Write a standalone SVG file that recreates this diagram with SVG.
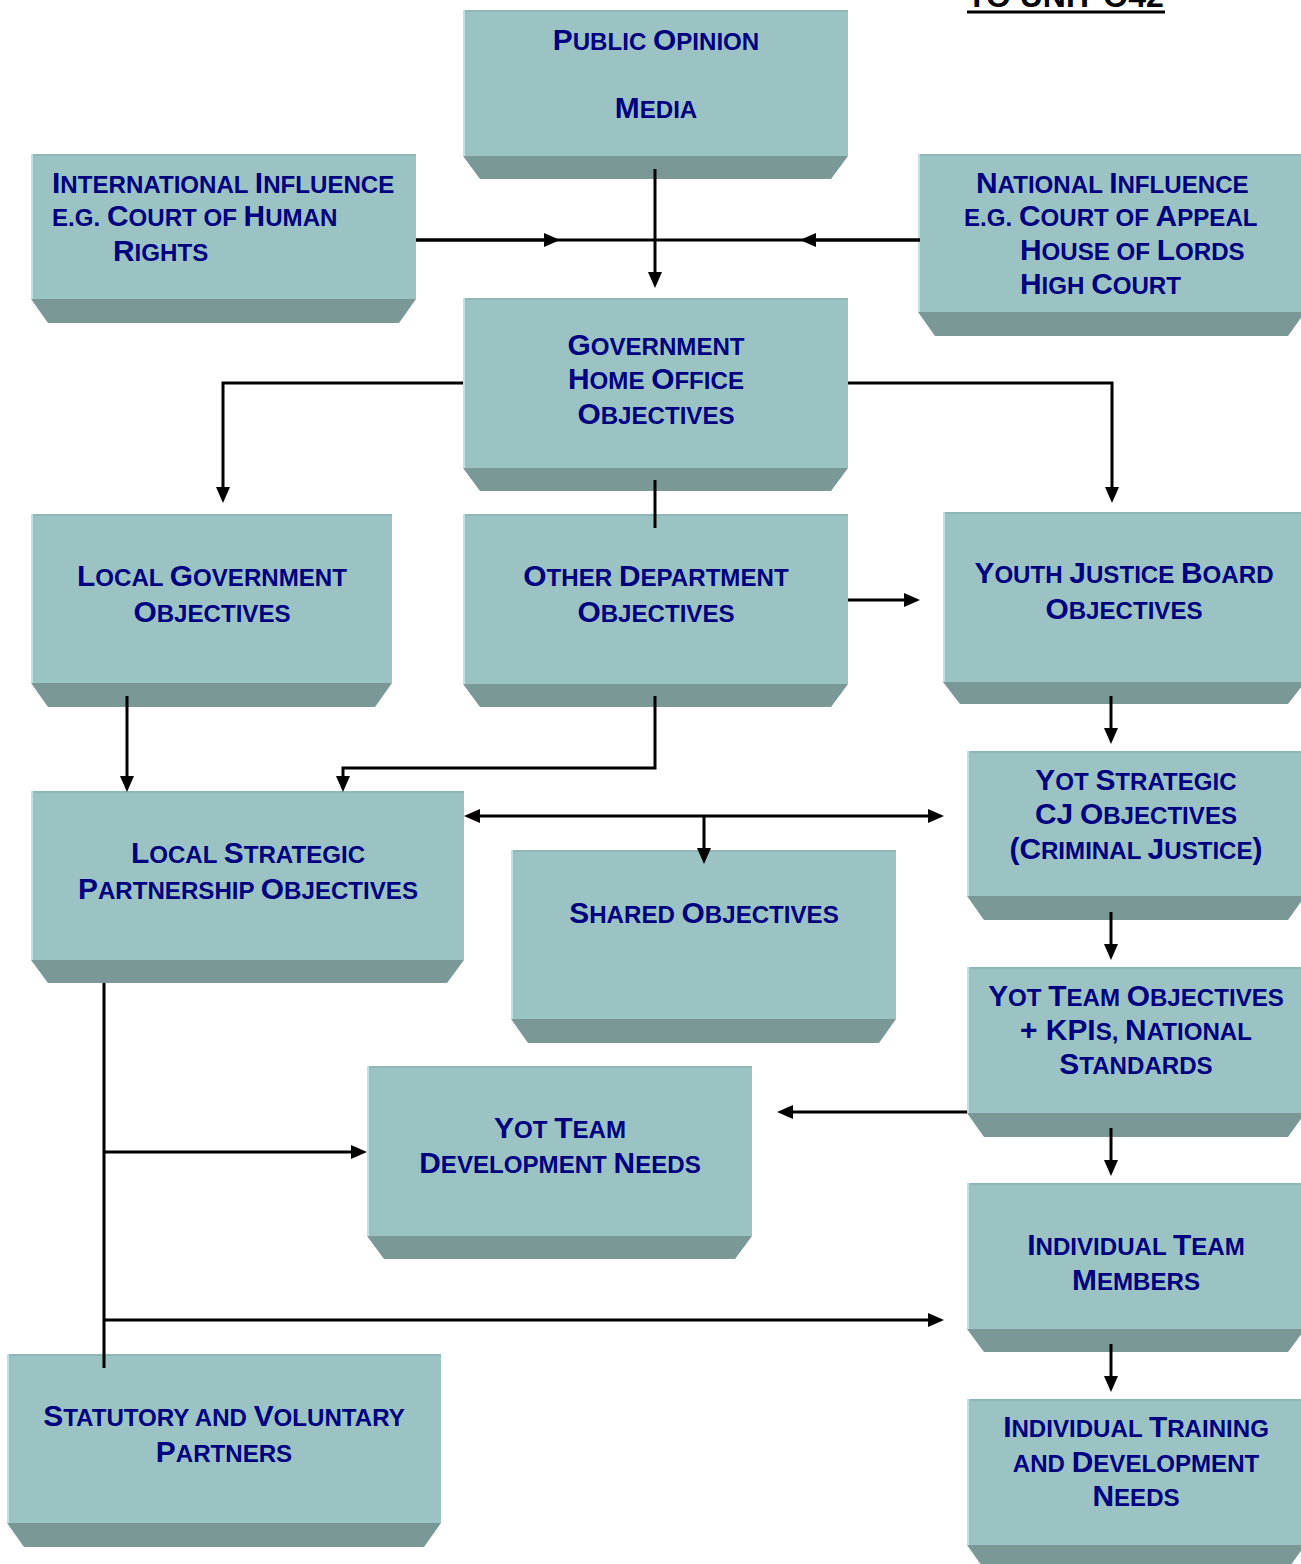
<svg xmlns="http://www.w3.org/2000/svg" width="1301" height="1564" viewBox="0 0 1301 1564">
<style>
.face{fill:#9CC3C3}
.hl{fill:#BDE2E2}
.tp{fill:#8FB7B7}
.bev{fill:#799896}
.t{font-family:"Liberation Sans",Arial,sans-serif;font-weight:bold;font-size:24.1px;fill:#000080}
.m{text-anchor:middle}
.b{font-size:29.9px}
.ln{fill:none;stroke:#000;stroke-width:3}
</style>
<defs>
<marker id="ah" markerUnits="userSpaceOnUse" markerWidth="16" markerHeight="14" viewBox="0 0 16 14" refX="12" refY="7" orient="auto">
<path d="M0,0 L16,7 L0,14 z" fill="#000"/>
</marker>
</defs>
<rect width="1301" height="1564" fill="#fff"/>

<g id="header">
<text x="967" y="7" font-family="Liberation Sans,Arial,sans-serif" font-weight="bold" font-size="32" fill="#000">TO UNIT O42</text>
<rect x="967" y="10.5" width="198" height="3" fill="#000"/>
</g>

<g id="n-public">
<rect class="face" x="463" y="10" width="385" height="146"/><rect class="tp" x="463" y="10" width="385" height="2"/><rect class="hl" x="463" y="10" width="2" height="146"/>
<polygon class="bev" points="463,156 848,156 831,179 480,179"/>
<text class="t m" x="656" y="50"><tspan class="b">P</tspan>UBLIC <tspan class="b">O</tspan>PINION</text>
<text class="t m" x="656" y="118"><tspan class="b">M</tspan>EDIA</text>
</g>

<g id="n-international">
<rect class="face" x="31" y="154" width="385" height="145"/><rect class="tp" x="31" y="154" width="385" height="2"/><rect class="hl" x="31" y="154" width="2" height="145"/>
<polygon class="bev" points="31,299 416,299 399,323 48,323"/>
<text class="t" x="52" y="193"><tspan class="b">I</tspan>NTERNATIONAL <tspan class="b">I</tspan>NFLUENCE</text>
<text class="t" x="52" y="226">E.G. <tspan class="b">C</tspan>OURT OF <tspan class="b">H</tspan>UMAN</text>
<text class="t" x="113" y="261"><tspan class="b">R</tspan>IGHTS</text>
</g>

<g id="n-national">
<rect class="face" x="918" y="154" width="387" height="158"/><rect class="tp" x="918" y="154" width="387" height="2"/><rect class="hl" x="918" y="154" width="2" height="158"/>
<polygon class="bev" points="918,312 1305,312 1288,336 935,336"/>
<text class="t" x="976" y="193"><tspan class="b">N</tspan>ATIONAL <tspan class="b">I</tspan>NFLUENCE</text>
<text class="t" x="964" y="226">E.G. <tspan class="b">C</tspan>OURT OF <tspan class="b">A</tspan>PPEAL</text>
<text class="t" x="1020" y="260"><tspan class="b">H</tspan>OUSE OF <tspan class="b">L</tspan>ORDS</text>
<text class="t" x="1020" y="294"><tspan class="b">H</tspan>IGH <tspan class="b">C</tspan>OURT</text>
</g>

<g id="n-government">
<rect class="face" x="463" y="298" width="385" height="170"/><rect class="tp" x="463" y="298" width="385" height="2"/><rect class="hl" x="463" y="298" width="2" height="170"/>
<polygon class="bev" points="463,468 848,468 831,491 480,491"/>
<text class="t m" x="656" y="355"><tspan class="b">G</tspan>OVERNMENT</text>
<text class="t m" x="656" y="389"><tspan class="b">H</tspan>OME <tspan class="b">O</tspan>FFICE</text>
<text class="t m" x="656" y="424"><tspan class="b">O</tspan>BJECTIVES</text>
</g>

<g id="n-localgov">
<rect class="face" x="31" y="514" width="361" height="169"/><rect class="tp" x="31" y="514" width="361" height="2"/><rect class="hl" x="31" y="514" width="2" height="169"/>
<polygon class="bev" points="31,683 392,683 375,707 48,707"/>
<text class="t m" x="212" y="586"><tspan class="b">L</tspan>OCAL <tspan class="b">G</tspan>OVERNMENT</text>
<text class="t m" x="212" y="622"><tspan class="b">O</tspan>BJECTIVES</text>
</g>

<g id="n-otherdept">
<rect class="face" x="463" y="514" width="385" height="170"/><rect class="tp" x="463" y="514" width="385" height="2"/><rect class="hl" x="463" y="514" width="2" height="170"/>
<polygon class="bev" points="463,684 848,684 831,707 480,707"/>
<text class="t m" x="656" y="586"><tspan class="b">O</tspan>THER <tspan class="b">D</tspan>EPARTMENT</text>
<text class="t m" x="656" y="622"><tspan class="b">O</tspan>BJECTIVES</text>
</g>

<g id="n-yjb">
<rect class="face" x="943" y="512" width="362" height="170"/><rect class="tp" x="943" y="512" width="362" height="2"/><rect class="hl" x="943" y="512" width="2" height="170"/>
<polygon class="bev" points="943,682 1305,682 1288,704 960,704"/>
<text class="t m" x="1124" y="583"><tspan class="b">Y</tspan>OUTH <tspan class="b">J</tspan>USTICE <tspan class="b">B</tspan>OARD</text>
<text class="t m" x="1124" y="619"><tspan class="b">O</tspan>BJECTIVES</text>
</g>

<g id="n-yotstrategic">
<rect class="face" x="967" y="751" width="338" height="145"/><rect class="tp" x="967" y="751" width="338" height="2"/><rect class="hl" x="967" y="751" width="2" height="145"/>
<polygon class="bev" points="967,896 1305,896 1288,920 984,920"/>
<text class="t m" x="1136" y="790"><tspan class="b">Y</tspan>OT <tspan class="b">S</tspan>TRATEGIC</text>
<text class="t m" x="1136" y="824"><tspan class="b">CJ</tspan> <tspan class="b">O</tspan>BJECTIVES</text>
<text class="t m" x="1136" y="859"><tspan class="b">(C</tspan>RIMINAL <tspan class="b">J</tspan>USTICE<tspan class="b">)</tspan></text>
</g>

<g id="n-lsp">
<rect class="face" x="31" y="791" width="433" height="169"/><rect class="tp" x="31" y="791" width="433" height="2"/><rect class="hl" x="31" y="791" width="2" height="169"/>
<polygon class="bev" points="31,960 464,960 447,983 48,983"/>
<text class="t m" x="248" y="863"><tspan class="b">L</tspan>OCAL <tspan class="b">S</tspan>TRATEGIC</text>
<text class="t m" x="248" y="899"><tspan class="b">P</tspan>ARTNERSHIP <tspan class="b">O</tspan>BJECTIVES</text>
</g>

<g id="n-shared">
<rect class="face" x="511" y="850" width="385" height="169"/><rect class="tp" x="511" y="850" width="385" height="2"/><rect class="hl" x="511" y="850" width="2" height="169"/>
<polygon class="bev" points="511,1019 896,1019 879,1043 528,1043"/>
<text class="t m" x="704" y="923"><tspan class="b">S</tspan>HARED <tspan class="b">O</tspan>BJECTIVES</text>
</g>

<g id="n-yotteam">
<rect class="face" x="967" y="967" width="338" height="146"/><rect class="tp" x="967" y="967" width="338" height="2"/><rect class="hl" x="967" y="967" width="2" height="146"/>
<polygon class="bev" points="967,1113 1305,1113 1288,1137 984,1137"/>
<text class="t m" x="1136" y="1006"><tspan class="b">Y</tspan>OT <tspan class="b">T</tspan>EAM <tspan class="b">O</tspan>BJECTIVES</text>
<text class="t m" x="1136" y="1040"><tspan class="b">+ KPI</tspan>S, <tspan class="b">N</tspan>ATIONAL</text>
<text class="t m" x="1136" y="1074"><tspan class="b">S</tspan>TANDARDS</text>
</g>

<g id="n-yotdev">
<rect class="face" x="367" y="1066" width="385" height="170"/><rect class="tp" x="367" y="1066" width="385" height="2"/><rect class="hl" x="367" y="1066" width="2" height="170"/>
<polygon class="bev" points="367,1236 752,1236 735,1259 384,1259"/>
<text class="t m" x="560" y="1138"><tspan class="b">Y</tspan>OT <tspan class="b">T</tspan>EAM</text>
<text class="t m" x="560" y="1173"><tspan class="b">D</tspan>EVELOPMENT <tspan class="b">N</tspan>EEDS</text>
</g>

<g id="n-individual">
<rect class="face" x="967" y="1183" width="338" height="146"/><rect class="tp" x="967" y="1183" width="338" height="2"/><rect class="hl" x="967" y="1183" width="2" height="146"/>
<polygon class="bev" points="967,1329 1305,1329 1288,1352 984,1352"/>
<text class="t m" x="1136" y="1255"><tspan class="b">I</tspan>NDIVIDUAL <tspan class="b">T</tspan>EAM</text>
<text class="t m" x="1136" y="1290"><tspan class="b">M</tspan>EMBERS</text>
</g>

<g id="n-training">
<rect class="face" x="967" y="1399" width="338" height="146"/><rect class="tp" x="967" y="1399" width="338" height="2"/><rect class="hl" x="967" y="1399" width="2" height="146"/>
<polygon class="bev" points="967,1545 1305,1545 1288,1569 984,1569"/>
<text class="t m" x="1136" y="1437"><tspan class="b">I</tspan>NDIVIDUAL <tspan class="b">T</tspan>RAINING</text>
<text class="t m" x="1136" y="1472">AND <tspan class="b">D</tspan>EVELOPMENT</text>
<text class="t m" x="1136" y="1506"><tspan class="b">N</tspan>EEDS</text>
</g>

<g id="n-statutory">
<rect class="face" x="7" y="1354" width="434" height="169"/><rect class="tp" x="7" y="1354" width="434" height="2"/><rect class="hl" x="7" y="1354" width="2" height="169"/>
<polygon class="bev" points="7,1523 441,1523 424,1547 24,1547"/>
<text class="t m" x="224" y="1426"><tspan class="b">S</tspan>TATUTORY AND <tspan class="b">V</tspan>OLUNTARY</text>
<text class="t m" x="224" y="1462"><tspan class="b">P</tspan>ARTNERS</text>
</g>

<g id="connectors">
<path class="ln" d="M655,169 L655,284" marker-end="url(#ah)"/>
<path class="ln" d="M416,240 L920,240"/>
<path class="ln" d="M416,240 L556,240" marker-end="url(#ah)"/>
<path class="ln" d="M920,240 L804,240" marker-end="url(#ah)"/>
<path class="ln" d="M463,383 L223,383 L223,499" marker-end="url(#ah)"/>
<path class="ln" d="M848,383 L1112,383 L1112,499" marker-end="url(#ah)"/>
<path class="ln" d="M655,480 L655,528"/>
<path class="ln" d="M848,600 L916,600" marker-end="url(#ah)"/>
<path class="ln" d="M127,696 L127,788" marker-end="url(#ah)"/>
<path class="ln" d="M655,696 L655,768 L343,768 L343,788" marker-end="url(#ah)"/>
<path class="ln" d="M1111,696 L1111,740" marker-end="url(#ah)"/>
<path class="ln" d="M704,816 L468,816" marker-end="url(#ah)"/>
<path class="ln" d="M704,816 L940,816" marker-end="url(#ah)"/>
<path class="ln" d="M704,816 L704,860" marker-end="url(#ah)"/>
<path class="ln" d="M1111,912 L1111,956" marker-end="url(#ah)"/>
<path class="ln" d="M967,1112 L781,1112" marker-end="url(#ah)"/>
<path class="ln" d="M1111,1128 L1111,1172" marker-end="url(#ah)"/>
<path class="ln" d="M104,983 L104,1368"/>
<path class="ln" d="M104,1152 L363,1152" marker-end="url(#ah)"/>
<path class="ln" d="M104,1320 L940,1320" marker-end="url(#ah)"/>
<path class="ln" d="M1111,1344 L1111,1388" marker-end="url(#ah)"/>
</g>
</svg>
